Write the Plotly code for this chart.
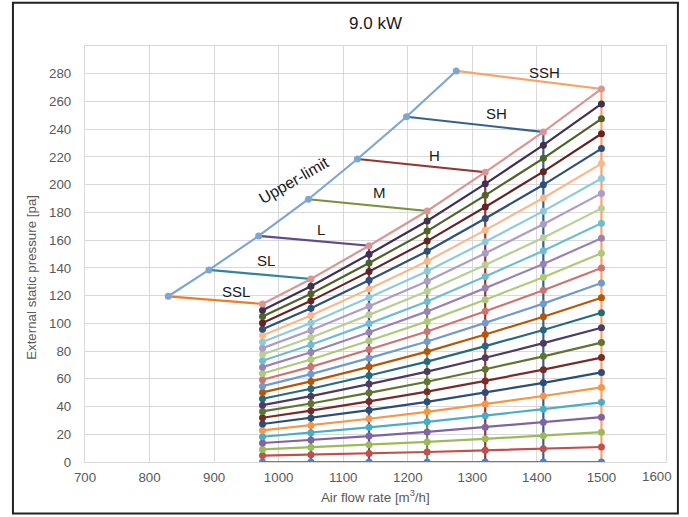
import plotly.graph_objects as go

# ---------------- data ----------------
airflow = [975, 1050, 1140, 1230, 1320, 1410, 1500]

curve_00 = [0, 0, 0, 0, 0, 0, 0]
curve_01 = [4.6, 5.3, 6.2, 7.2, 8.4, 9.5, 10.8]
curve_02 = [9.1, 10.6, 12.5, 14.5, 16.7, 19.0, 21.5]
curve_03 = [13.7, 15.8, 18.7, 21.7, 25.1, 28.6, 32.3]
curve_04 = [18.2, 21.1, 25.0, 29.0, 33.4, 38.1, 43.0]
curve_05 = [22.8, 26.4, 31.2, 36.2, 41.8, 47.6, 53.8]
curve_06 = [27.4, 31.7, 37.4, 43.4, 50.2, 57.1, 64.6]
curve_07 = [31.9, 37.0, 43.7, 50.7, 58.5, 66.6, 75.3]
curve_08 = [36.5, 42.2, 49.9, 57.9, 66.9, 76.2, 86.1]
curve_09 = [41.0, 47.5, 56.2, 65.2, 75.2, 85.7, 96.8]
curve_10 = [45.6, 52.8, 62.4, 72.4, 83.6, 95.2, 107.6]
curve_11 = [50.2, 58.1, 68.6, 79.6, 92.0, 104.7, 118.4]
curve_12 = [54.7, 63.4, 74.9, 86.9, 100.3, 114.2, 129.1]
curve_13 = [59.3, 68.6, 81.1, 94.1, 108.7, 123.8, 139.9]
curve_14 = [63.8, 73.9, 87.4, 101.4, 117.0, 133.3, 150.6]
curve_15 = [68.4, 79.2, 93.6, 108.6, 125.4, 142.8, 161.4]
curve_16 = [73.0, 84.5, 99.8, 115.8, 133.8, 152.3, 172.2]
curve_17 = [77.5, 89.8, 106.1, 123.1, 142.1, 161.8, 182.9]
curve_18 = [82.1, 95.0, 112.3, 130.3, 150.5, 171.4, 193.7]
curve_19 = [86.6, 100.3, 118.6, 137.6, 158.8, 180.9, 204.4]
curve_20 = [91.2, 105.6, 124.8, 144.8, 167.2, 190.4, 215.2]
curve_21 = [95.8, 110.9, 131.0, 152.0, 175.6, 199.9, 226.0]
curve_22 = [100.3, 116.2, 137.3, 159.3, 183.9, 209.4, 236.7]
curve_23 = [104.9, 121.4, 143.5, 166.5, 192.3, 219.0, 247.5]
curve_24 = [109.4, 126.7, 149.8, 173.8, 200.6, 228.5, 258.2]
curve_25 = [114.0, 132.0, 156.0, 181.0, 209.0, 238.0, 269.0]

upper_x = [829, 892, 969, 1046, 1122, 1198, 1275]
upper_y = [119.5, 138.5, 163.0, 189.5, 218.5, 249.0, 282.0]

speed_names = ["SSL", "SL", "L", "M", "H", "SH", "SSH"]

x_ticks = [700, 800, 900, 1000, 1100, 1200, 1300, 1400, 1500]
x_last_label = "1600"
y_ticks = [0, 20, 40, 60, 80, 100, 120, 140, 160, 180, 200, 220, 240, 260, 280]

# ---------------- styles ----------------
curves = [curve_00, curve_01, curve_02, curve_03, curve_04, curve_05, curve_06,
          curve_07, curve_08, curve_09, curve_10, curve_11, curve_12, curve_13,
          curve_14, curve_15, curve_16, curve_17, curve_18, curve_19, curve_20,
          curve_21, curve_22, curve_23, curve_24, curve_25]

curve_colors = ["#4F81BD", "#C0504D", "#9BBB59", "#8064A2", "#4BACC6", "#F79646",
                "#2C4D75", "#772C2A", "#5F7530", "#4D3B62", "#276A7C", "#B65708",
                "#729ACA", "#CD7371", "#AFC97A", "#9983B5", "#6FBDD1", "#B9CF96",
                "#AC9CC6", "#8ECBDA", "#F9B98B", "#30507A", "#632523", "#4F6228",
                "#403152", "#D99694"]

speed_colors = ["#F07A2C", "#31849B", "#5F4B8B", "#77933C", "#943634", "#376092", "#F7A46C"]
upper_color = "#7EA6D3"

FONT = "Liberation Sans, Arial, sans-serif"

fig = go.Figure()

# speed lines: from the upper-limit point to the top curve, then down to zero
for i, name in enumerate(speed_names):
    fig.add_trace(go.Scatter(
        x=[upper_x[i], airflow[i], airflow[i]],
        y=[upper_y[i], curve_25[i], curve_00[i]],
        mode="lines", line=dict(color=speed_colors[i], width=2.2),
        name=name, showlegend=False, hoverinfo="skip"))

fig.add_trace(go.Scatter(
    x=upper_x, y=upper_y, mode="lines+markers",
    line=dict(color=upper_color, width=2.2),
    marker=dict(color=upper_color, size=7),
    name="Upper-limit", showlegend=False))

for c, col in zip(curves, curve_colors):
    fig.add_trace(go.Scatter(
        x=airflow, y=c, mode="lines+markers",
        line=dict(color=col, width=2.2),
        marker=dict(color=col, size=7),
        showlegend=False))

# ---------------- text labels ----------------
label_font = dict(family=FONT, size=15, color="#1A1A1A")
label_pos = {"SSL": (934, 123), "SL": (980, 145), "L": (1066, 168), "M": (1156, 194),
             "H": (1242, 221), "SH": (1337, 251), "SSH": (1412, 281)}
for name, (lx, ly) in label_pos.items():
    fig.add_annotation(x=lx, y=ly, text=name, showarrow=False, font=label_font)

fig.add_annotation(x=1023, y=203, text="Upper-limit", showarrow=False,
                   textangle=-30, font=dict(family=FONT, size=16, color="#1A1A1A"))

# last x tick label, pulled inside the chart border as in the reference
fig.add_annotation(xref="paper", yref="paper", x=0.984, y=-0.034,
                   xanchor="center", yanchor="middle",
                   text=x_last_label, showarrow=False,
                   font=dict(family=FONT, size=13.3, color="#595959"))

fig.add_annotation(xref="paper", yref="paper", x=-0.092, y=0.444,
                   xanchor="center", yanchor="middle",
                   text="External static pressure [pa]", textangle=-90, showarrow=False,
                   font=dict(family=FONT, size=13.3, color="#595959"))
fig.add_annotation(xref="paper", yref="paper", x=0.5, y=-0.083,
                   xanchor="center", yanchor="middle",
                   text="Air flow rate [m<sup>3</sup>/h]", showarrow=False,
                   font=dict(family=FONT, size=13.3, color="#595959"))

# chart border
fig.add_shape(type="rect", xref="paper", yref="paper",
              x0=-0.124, x1=1.0205, y0=-0.124, y1=1.104,
              line=dict(color="#222222", width=2))

grid = "#D9D9D9"
fig.update_layout(
    width=688, height=517,
    margin=dict(l=85, r=22, t=46, b=54.5, autoexpand=False),
    paper_bgcolor="white", plot_bgcolor="white",
    font=dict(family=FONT, size=13.3, color="#595959"),
    title=dict(text="9.0 kW", x=0.5, xref="paper", xanchor="center",
               y=0.956, yanchor="middle", automargin=False,
               font=dict(size=17, color="#1A1A1A")),
    xaxis=dict(range=[700, 1600], tickvals=x_ticks, showgrid=True,
               gridcolor=grid, gridwidth=1.3, zeroline=False, showline=True, linecolor=grid,
               linewidth=1.3, mirror=True, ticks="", ticklabelstandoff=3, automargin=False),
    yaxis=dict(range=[0, 300], tickvals=y_ticks, showgrid=True,
               gridcolor=grid, gridwidth=1.3, zeroline=False, showline=True, linecolor=grid,
               linewidth=1.3, mirror=True, ticks="", ticklabelstandoff=10, automargin=False),
)

fig.write_html("out.html", config={"displayModeBar": False},
               post_script="document.body.style.margin='0';"
                           "document.body.style.overflow='hidden';")
